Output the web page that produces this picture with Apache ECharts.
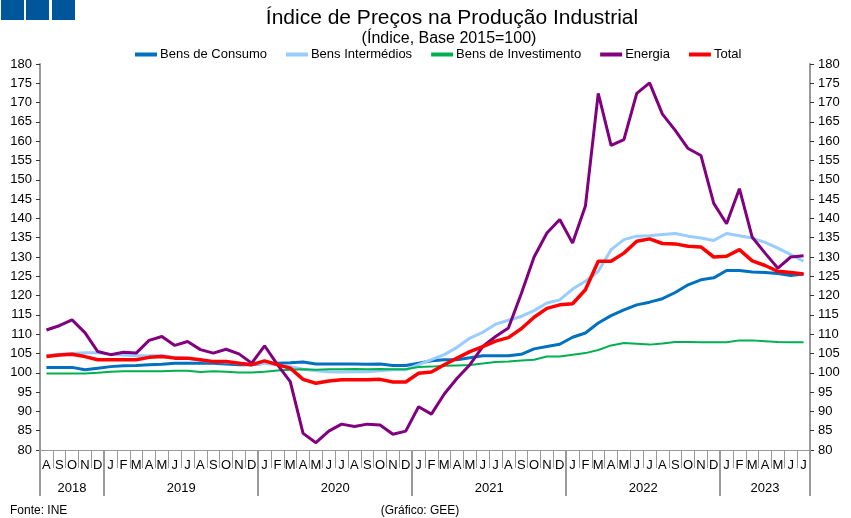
<!DOCTYPE html>
<html lang="pt">
<head>
    <meta charset="UTF-8">
    <title>Índice de Preços na Produção Industrial</title>
    <script src="https://cdn.jsdelivr.net/npm/echarts@6/dist/echarts.min.js"></script>
    <style>
        html, body {margin: 0; padding: 0; background: #fff;}
    </style>
</head>
<body>
<div id="main" style="width: 851px;height:518px;"></div>

<script type="text/javascript">
    // meses de Ago 2018 a Jul 2023
    var months = ['A','S','O','N','D',
        'J','F','M','A','M','J','J','A','S','O','N','D',
        'J','F','M','A','M','J','J','A','S','O','N','D',
        'J','F','M','A','M','J','J','A','S','O','N','D',
        'J','F','M','A','M','J','J','A','S','O','N','D',
        'J','F','M','A','M','J','J'];
    var years = ['2018','2019','2020','2021','2022','2023'];
    var monthsPerYear = [5, 12, 12, 12, 12, 7];

    var consumo = [101.4, 101.4, 101.4, 100.8, 101.2,
        101.6, 101.8, 101.9, 102.1, 102.2, 102.5, 102.5, 102.5, 102.5, 102.3, 102.1, 102.1,
        102.5, 102.5, 102.6, 102.8, 102.3, 102.3, 102.3, 102.3, 102.2, 102.3, 101.9, 101.9,
        102.5, 103.1, 103.4, 103.4, 103.9, 104.4, 104.4, 104.4, 104.8, 106.2, 106.8, 107.4,
        109.2, 110.3, 112.9, 114.8, 116.3, 117.6, 118.3, 119.2, 120.8, 122.8, 124.1, 124.6,
        126.5, 126.5, 126.1, 126.0, 125.7, 125.2, 125.6];
    var intermedios = [104.5, 104.8, 105.0, 105.2, 105.2,
        104.8, 104.6, 104.4, 104.4, 104.5, 104.0, 103.7, 103.2, 103.0, 102.8, 102.5, 102.2,
        102.5, 102.0, 101.6, 100.9, 100.5, 100.3, 100.2, 100.3, 100.3, 100.5, 100.8, 100.8,
        102.1, 103.4, 104.7, 106.6, 109.0, 110.5, 112.6, 113.6, 114.6, 116.1, 118.1, 118.9,
        121.7, 123.7, 126.3, 131.9, 134.5, 135.4, 135.5, 135.8, 136.1, 135.4, 134.9, 134.3,
        136.1, 135.5, 134.9, 133.8, 132.3, 130.6, 128.9];
    var investimento = [99.8, 99.8, 99.8, 99.8, 100.0,
        100.3, 100.4, 100.4, 100.4, 100.4, 100.5, 100.5, 100.2, 100.4, 100.3, 100.1, 100.1,
        100.3, 100.6, 100.8, 100.9, 100.8, 100.9, 100.9, 101.0, 100.9, 101.0, 100.9, 100.9,
        101.5, 101.6, 101.8, 101.9, 102.0, 102.4, 102.8, 102.9, 103.2, 103.4, 104.2, 104.2,
        104.7, 105.1, 105.9, 107.1, 107.7, 107.5, 107.3, 107.6, 108.0, 108.0, 107.9, 107.9,
        107.9, 108.4, 108.4, 108.2, 108.0, 107.9, 107.9];
    var energia = [111.1, 112.2, 113.7, 110.4, 105.5,
        104.7, 105.3, 105.1, 108.4, 109.4, 107.1, 108.1, 106.0, 105.1, 106.1, 104.9, 102.5,
        107.0, 102.1, 97.7, 84.3, 81.9, 84.9, 86.7, 86.1, 86.7, 86.5, 84.1, 84.9,
        91.2, 89.3, 94.5, 98.6, 102.1, 106.8, 109.4, 111.6, 120.5, 130.0, 136.2, 139.7,
        133.6, 143.2, 172.4, 158.9, 160.4, 172.4, 175.1, 167.0, 162.8, 158.1, 156.3, 143.9,
        138.6, 147.7, 135.1, 131.0, 127.1, 130.0, 130.3];
    var total = [104.2, 104.6, 104.8, 104.2, 103.4,
        103.4, 103.4, 103.4, 104.0, 104.2, 103.8, 103.8, 103.4, 102.9, 102.9, 102.5, 102.1,
        103.1, 102.1, 101.2, 98.3, 97.3, 97.9, 98.2, 98.2, 98.2, 98.3, 97.6, 97.6,
        99.9, 100.2, 102.1, 103.8, 105.5, 106.8, 108.2, 109.1, 111.4, 114.4, 116.7, 117.6,
        117.9, 121.5, 128.9, 128.9, 131.0, 134.1, 134.7, 133.5, 133.4, 132.8, 132.6, 130.0,
        130.2, 131.9, 129.0, 127.8, 126.3, 126.0, 125.6];

    // limites e centros dos anos no eixo de anos
    var yearBounds = [0];
    var yearCenters = [];
    for (var i = 0; i < monthsPerYear.length; i++) {
        var start = yearBounds[yearBounds.length - 1];
        yearBounds.push(start + monthsPerYear[i]);
        yearCenters.push(start + monthsPerYear[i] / 2);
    }

    var font = "'Liberation Sans', Arial, sans-serif";
    var myChart = echarts.init(document.getElementById('main'));

    var yAxisBase = {
        type: 'value',
        min: 80,
        max: 180,
        interval: 5,
        splitLine: {show: false},
        axisLine: {show: true, lineStyle: {color: '#999', width: 2}},
        axisTick: {show: true, length: 4, lineStyle: {color: '#333'}},
        axisLabel: {color: '#000', fontSize: 13, fontFamily: font, margin: 8}
    };

    option = {
        backgroundColor: '#fff',
        animation: false,
        title: [{
            text: 'Índice de Preços na Produção Industrial',
            left: 447,
            top: 3,
            textAlign: 'center',
            textStyle: {fontSize: 21, fontWeight: 'normal', color: '#000', fontFamily: font}
        }, {
            text: '(Índice, Base 2015=100)',
            left: 444,
            top: 26,
            textAlign: 'center',
            textStyle: {fontSize: 16, fontWeight: 'normal', color: '#000', fontFamily: font}
        }, {
            text: 'Fonte: INE',
            left: 5,
            top: 500,
            textStyle: {fontSize: 12, fontWeight: 'normal', color: '#000', fontFamily: font}
        }, {
            text: '(Gráfico: GEE)',
            left: 415,
            top: 500,
            textAlign: 'center',
            textStyle: {fontSize: 12, fontWeight: 'normal', color: '#000', fontFamily: font}
        }],
        legend: {
            top: 43,
            left: 130,
            icon: 'rect',
            itemWidth: 22,
            itemHeight: 4,
            itemGap: 19,
            textStyle: {fontSize: 13, color: '#000', fontFamily: font, padding: [0, 0, 0, -2]},
            data: ['Bens de Consumo', 'Bens Intermédios', 'Bens de Investimento', 'Energia', 'Total']
        },
        grid: {left: 40, right: 41, top: 64, bottom: 68},
        xAxis: [{
            type: 'category',
            data: months,
            boundaryGap: true,
            axisLine: {show: true, lineStyle: {color: '#999', width: 1}},
            axisTick: {show: true, interval: 0, length: 18, lineStyle: {color: '#999'}},
            axisLabel: {interval: 0, color: '#000', fontSize: 13, fontFamily: font, margin: 9}
        }, {
            type: 'value',
            min: 0,
            max: months.length,
            position: 'bottom',
            splitLine: {show: false},
            axisLine: {show: false},
            axisTick: {show: true, length: 46, customValues: yearBounds, lineStyle: {color: '#999', width: 2}},
            axisLabel: {
                customValues: yearCenters,
                color: '#000', fontSize: 13, fontFamily: font, margin: 32,
                formatter: function (v) {
                    for (var k = 0; k < yearCenters.length; k++) {
                        if (Math.abs(yearCenters[k] - v) < 0.01) return years[k];
                    }
                    return '';
                }
            }
        }],
        yAxis: [
            echarts.util.merge({position: 'left'}, yAxisBase, true),
            echarts.util.merge({position: 'right'}, yAxisBase, true)
        ],
        series: [{
            name: 'Bens de Consumo',
            type: 'line',
            data: consumo,
            symbol: 'none',
            color: '#0070C0',
            lineStyle: {width: 3}
        }, {
            name: 'Bens Intermédios',
            type: 'line',
            data: intermedios,
            symbol: 'none',
            color: '#99CCFF',
            lineStyle: {width: 3}
        }, {
            name: 'Bens de Investimento',
            type: 'line',
            data: investimento,
            symbol: 'none',
            color: '#00B050',
            lineStyle: {width: 2}
        }, {
            name: 'Energia',
            type: 'line',
            data: energia,
            symbol: 'none',
            color: '#800080',
            lineStyle: {width: 3}
        }, {
            name: 'Total',
            type: 'line',
            data: total,
            symbol: 'none',
            color: '#FF0000',
            lineStyle: {width: 3.5}
        }],
        graphic: [
            {type: 'rect', shape: {x: 1, y: 0, width: 23, height: 20}, style: {fill: '#00569B'}},
            {type: 'rect', shape: {x: 26, y: 0, width: 23, height: 20}, style: {fill: '#00569B'}},
            {type: 'rect', shape: {x: 52, y: 0, width: 23, height: 20}, style: {fill: '#00569B'}}
        ]
    };
    myChart.setOption(option);
</script>
</body>
</html>
